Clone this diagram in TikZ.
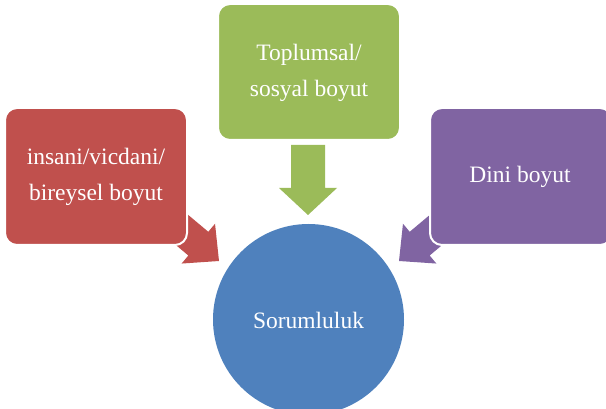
\documentclass[tikz,border=0pt]{standalone}
\usepackage{fontspec}
\setmainfont{Liberation Serif}
\definecolor{cred}{HTML}{C0504D}
\definecolor{cgreen}{HTML}{9BBB59}
\definecolor{cpurple}{HTML}{8064A2}
\definecolor{cblue}{HTML}{4F81BD}
\tikzset{
  boxstyle/.style={draw=white, line width=2pt, rounded corners=12pt},
  lbl/.style={text=white, font=\fontsize{23.5}{36}\selectfont, align=center},
  blockarrow/.pic={
    \fill[pic actions] (0,0) -- (-27,29) -- (-27,17) -- (-70,17) -- (-70,-17) -- (-27,-17) -- (-27,-29) -- cycle;
  },
  diagarrow/.pic={
    \fill[pic actions] (0,0) -- (-27,26) -- (-27,15.5) -- (-75,15.5) -- (-75,-15.5) -- (-27,-15.5) -- (-27,-26) -- cycle;
  }
}
\begin{document}
\begin{tikzpicture}[x=1pt,y=-1pt]
\useasboundingbox (0,0) rectangle (606,409);
\clip (0,0) rectangle (606,409);
% arrows
\pic[fill=cgreen, rotate=-90] (ga) at (308,215) {blockarrow};
\pic[fill=cred, rotate=-40] (ra) at (219,261) {diagarrow};
\pic[fill=cpurple, rotate=-140] (pa) at (399,261) {diagarrow};
% boxes
\path[boxstyle, fill=cred] (5,108) rectangle (187,245);
\path[boxstyle, fill=cgreen] (218,4) rectangle (400,140);
\path[boxstyle, fill=cpurple] (430,108) rectangle (612,245);
\node[lbl] (red) at (96,177) {insani/vicdani/\\bireysel boyut};
\node[lbl] (green) at (309,73) {Toplumsal/\\sosyal boyut};
\node[lbl] (purple) at (520,177) {Dini boyut};
% circle
\fill[cblue] (308.5,319.5) circle[radius=95.5];
\node[lbl] (circ) at (308.5,320) {Sorumluluk};
\end{tikzpicture}
\end{document}
